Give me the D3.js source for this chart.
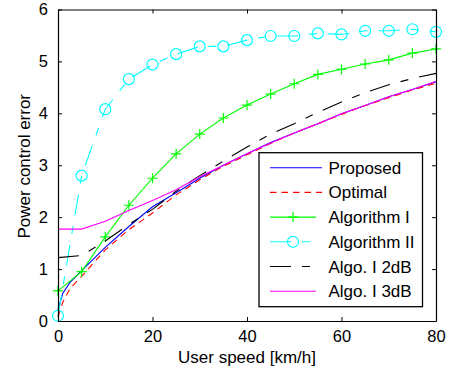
<!DOCTYPE html>
<html><head><meta charset="utf-8">
<script src="https://cdn.jsdelivr.net/npm/d3@7"></script>
<style>
html,body{margin:0;padding:0;background:#fff;}
svg{display:block;font-family:"Liberation Sans",Arial,sans-serif;}
</style></head>
<body>
<svg id="chart" width="451" height="374"></svg>
<script>
// ---- data ----
const speeds = [0,5,10,15,20,25,30,35,40,45,50,55,60,65,70,75,80];
const speedsFine = [0,1,2.5,5,10,15,20,25,30,35,40,45,50,55,60,65,70,75,80];
const proposed = [0.22,0.53,0.74,0.97,1.42,1.82,2.2,2.47,2.75,3.0,3.22,3.44,3.62,3.8,3.99,4.15,4.32,4.46,4.61];
const optimal  = [0.08,0.36,0.62,0.86,1.37,1.76,2.08,2.43,2.72,2.98,3.2,3.42,3.62,3.8,3.98,4.15,4.3,4.45,4.58];
const algo1    = [0.58,0.95,1.62,2.23,2.75,3.22,3.6,3.91,4.16,4.37,4.57,4.75,4.85,4.95,5.03,5.16,5.24];
const algo2    = [0.1,2.8,4.08,4.66,4.94,5.14,5.29,5.29,5.41,5.49,5.49,5.54,5.52,5.59,5.59,5.62,5.57];
const algo1_2dB= [1.22,1.26,1.54,1.86,2.15,2.5,2.8,3.08,3.35,3.6,3.8,4.02,4.22,4.4,4.55,4.67,4.77];
const algo1_3dB= [1.77,1.77,1.92,2.13,2.32,2.53,2.78,3.0,3.22,3.43,3.62,3.8,3.99,4.15,4.32,4.46,4.62];
const xTicks = [0,20,40,60,80];
const yTicks = [0,1,2,3,4,5,6];
const legendLabels = ["Proposed","Optimal","Algorithm I","Algorithm II","Algo. I 2dB","Algo. I 3dB"];

// ---- layout ----
const svg = d3.select("#chart");
const L = 58, R = 436, T = 9.5, B = 321;
const x = d3.scaleLinear().domain([0,80]).range([L,R]);
const y = d3.scaleLinear().domain([0,6]).range([B,T]);
const fs = 16.5;

const series = [
  {xs: speedsFine, ys: proposed, color:"#0000ff", dash:null, marker:null},
  {xs: speedsFine, ys: optimal, color:"#ff0000", dash:"6.5,5", marker:null},
  {xs: speeds, ys: algo1, color:"#00ff00", dash:null, marker:"plus"},
  {xs: speeds, ys: algo2, color:"#00ffff", dash:"21,11,8,11", marker:"circle"},
  {xs: speeds, ys: algo1_2dB, color:"#000000", dash:"21,11,8,11", marker:null},
  {xs: speeds, ys: algo1_3dB, color:"#ff00ff", dash:null, marker:null}
];

svg.append("defs").append("clipPath").attr("id","clip")
  .append("rect").attr("x",L-8).attr("y",T-8).attr("width",R-L+16).attr("height",B-T+16);

const plot = svg.append("g").attr("clip-path","url(#clip)");
const line = d3.line();

function drawMarker(g, kind, cx, cy, color){
  if(kind==="plus"){
    g.append("path").attr("d",`M${cx-5},${cy}H${cx+5}M${cx},${cy-5}V${cy+5}`)
      .attr("stroke",color).attr("stroke-width",1.2).attr("fill","none");
  } else if(kind==="circle"){
    g.append("circle").attr("cx",cx).attr("cy",cy).attr("r",5.5)
      .attr("stroke",color).attr("stroke-width",1.2).attr("fill","none");
  }
}

series.forEach(s=>{
  const pts = s.xs.map((v,i)=>[x(v), y(s.ys[i])]);
  plot.append("path").attr("d",line(pts)).attr("fill","none")
    .attr("stroke",s.color).attr("stroke-width",1.1)
    .attr("stroke-dasharray",s.dash);
  if(s.marker){
    pts.forEach(p=>drawMarker(plot,s.marker,p[0],p[1],s.color));
  }
});

// ---- axes (box with inward ticks) ----
const ax = svg.append("g");
const fmt = d3.format("d");
ax.append("g").attr("transform",`translate(0,${B})`)
  .call(d3.axisBottom(x).tickValues(xTicks).tickFormat(fmt).tickSizeInner(-4).tickSizeOuter(0).tickPadding(9));
ax.append("g").attr("transform",`translate(0,${T})`)
  .call(d3.axisTop(x).tickValues(xTicks).tickSizeInner(-4).tickSizeOuter(0).tickFormat(""));
ax.append("g").attr("transform",`translate(${L},0)`)
  .call(d3.axisLeft(y).tickValues(yTicks).tickFormat(fmt).tickSizeInner(-4).tickSizeOuter(0).tickPadding(10));
ax.append("g").attr("transform",`translate(${R},0)`)
  .call(d3.axisRight(y).tickValues(yTicks).tickSizeInner(-4).tickSizeOuter(0).tickFormat(""));
ax.selectAll(".domain").attr("stroke","#000").attr("stroke-width",1.2);
ax.selectAll(".tick line").attr("stroke","#000");
ax.selectAll("text").attr("font-size",fs).attr("font-family","'Liberation Sans',Arial,sans-serif").attr("fill","#000");

// axis labels
svg.append("text").attr("x",(L+R)/2).attr("y",363).attr("text-anchor","middle")
  .attr("font-size",17).text("User speed [km/h]");
svg.append("text").attr("transform",`translate(30,${(T+B)/2+1}) rotate(-90)`).attr("text-anchor","middle")
  .attr("font-size",17).text("Power control error");

// ---- legend ----
const lg = svg.append("g");
lg.append("rect").attr("x",259).attr("y",152.7).attr("width",163.5).attr("height",154)
  .attr("fill","#fff").attr("stroke","#000").attr("stroke-width",1.3);
legendLabels.forEach((lab,i)=>{
  const s = series[i];
  const cy = 167.7 + i*24.7;
  const x1 = 270, x2 = (i===0||i===1)?322:316;
  lg.append("path").attr("d",`M${x1},${cy}H${x2}`).attr("stroke",s.color)
    .attr("stroke-width",1.1).attr("fill","none").attr("stroke-dasharray",s.dash);
  if(s.marker) drawMarker(lg,s.marker,(270+316)/2,cy,s.color);
  lg.append("text").attr("x",328.5).attr("y",cy+6).attr("font-size",17).text(lab);
});
</script>
</body></html>
